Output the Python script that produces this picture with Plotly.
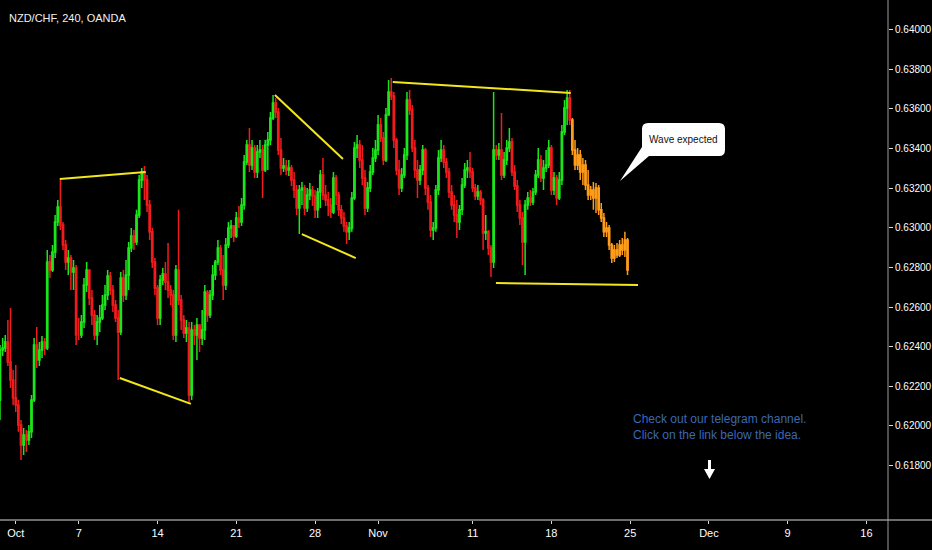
import pandas as pd
import plotly.graph_objects as go

# NZD/CHF 4h candles (OANDA)
first_open = 0.62131
closes = [
    0.62383, 0.62393, 0.62424, 0.62323, 0.62232, 0.62141, 0.62106, 0.62005, 0.61904, 0.61954,
    0.61929, 0.61970, 0.62131, 0.62408, 0.62333, 0.62383, 0.62424, 0.62393, 0.62827, 0.62787,
    0.62878, 0.63029, 0.63105, 0.63014, 0.62913, 0.62827, 0.62847, 0.62777, 0.62797, 0.62459,
    0.62459, 0.62524, 0.62711, 0.62787, 0.62646, 0.62560, 0.62459, 0.62524, 0.62545, 0.62610,
    0.62661, 0.62757, 0.62686, 0.62610, 0.62545, 0.62474, 0.62746, 0.62661, 0.62762, 0.62898,
    0.62958, 0.62928, 0.63064, 0.63241, 0.63281, 0.63241, 0.63115, 0.62979, 0.62827, 0.62696,
    0.62545, 0.62736, 0.62767, 0.62726, 0.62686, 0.62661, 0.62459, 0.62787, 0.62635, 0.62535,
    0.62469, 0.62494, 0.62156, 0.62484, 0.62459, 0.62509, 0.62444, 0.62484, 0.62676, 0.62560,
    0.62661, 0.62762, 0.62827, 0.62898, 0.62787, 0.62711, 0.62913, 0.62999, 0.63009, 0.62958,
    0.63049, 0.63029, 0.63115, 0.63332, 0.63417, 0.63317, 0.63402, 0.63281, 0.63382, 0.63392,
    0.63291, 0.63417, 0.63443, 0.63554, 0.63629, 0.63584, 0.63392, 0.63301, 0.63311, 0.63291,
    0.63301, 0.63241, 0.63190, 0.63100, 0.63190, 0.63200, 0.63100, 0.63165, 0.63190, 0.63160,
    0.63090, 0.63180, 0.63266, 0.63165, 0.63140, 0.63115, 0.63079, 0.63251, 0.63165, 0.63090,
    0.63049, 0.63009, 0.62979, 0.62999, 0.63150, 0.63402, 0.63417, 0.63342, 0.63251, 0.63100,
    0.63200, 0.63281, 0.63352, 0.63392, 0.63518, 0.63453, 0.63342, 0.63569, 0.63685, 0.63665,
    0.63443, 0.63291, 0.63200, 0.63266, 0.63367, 0.63644, 0.63594, 0.63402, 0.63291, 0.63241,
    0.63291, 0.63392, 0.63200, 0.63130, 0.62989, 0.62999, 0.63190, 0.63352, 0.63392, 0.63332,
    0.63281, 0.63180, 0.63115, 0.63064, 0.63029, 0.63090, 0.63216, 0.63291, 0.63301, 0.63281,
    0.63200, 0.63160, 0.63180, 0.63140, 0.62973, 0.62979, 0.62898, 0.62827, 0.63392, 0.63367,
    0.63392, 0.63266, 0.63342, 0.63402, 0.63433, 0.63281, 0.63211, 0.63115, 0.63049, 0.62928,
    0.63115, 0.63150, 0.63130, 0.63180, 0.63266, 0.63342, 0.63251, 0.63301, 0.63317, 0.63402,
    0.63190, 0.63251, 0.63150, 0.63241, 0.63483, 0.63604, 0.63655, 0.63544,
]
highs = [
    0.62408, 0.62444, 0.62459, 0.62535, 0.62595, 0.62282, 0.62308, 0.62131, 0.62030, 0.61990,
    0.61980, 0.62005, 0.62156, 0.62444, 0.62499, 0.62424, 0.62454, 0.62444, 0.62888, 0.62862,
    0.62913, 0.63064, 0.63140, 0.63241, 0.63029, 0.62938, 0.62888, 0.62862, 0.62837, 0.62812,
    0.62545, 0.62560, 0.62746, 0.62827, 0.62787, 0.62686, 0.62585, 0.62560, 0.62610, 0.62661,
    0.62711, 0.62787, 0.62777, 0.62711, 0.62635, 0.62585, 0.62777, 0.62787, 0.62837, 0.62928,
    0.62999, 0.62989, 0.63090, 0.63266, 0.63301, 0.63311, 0.63266, 0.63140, 0.62999, 0.62847,
    0.62711, 0.62762, 0.62797, 0.62827, 0.62923, 0.62711, 0.62686, 0.62812, 0.63090, 0.62661,
    0.62560, 0.62535, 0.62524, 0.62524, 0.62509, 0.62545, 0.62509, 0.62585, 0.62711, 0.62686,
    0.62686, 0.62812, 0.62837, 0.62938, 0.62913, 0.62862, 0.62948, 0.63029, 0.63039, 0.63014,
    0.63079, 0.63110, 0.63150, 0.63367, 0.63443, 0.63503, 0.63443, 0.63417, 0.63417, 0.63443,
    0.63417, 0.63443, 0.63483, 0.63584, 0.63670, 0.63655, 0.63604, 0.63453, 0.63352, 0.63342,
    0.63342, 0.63317, 0.63281, 0.63216, 0.63216, 0.63231, 0.63216, 0.63200, 0.63226, 0.63211,
    0.63190, 0.63200, 0.63291, 0.63352, 0.63216, 0.63180, 0.63150, 0.63281, 0.63266, 0.63180,
    0.63115, 0.63079, 0.63029, 0.63029, 0.63180, 0.63433, 0.63468, 0.63443, 0.63417, 0.63291,
    0.63231, 0.63317, 0.63402, 0.63443, 0.63569, 0.63554, 0.63483, 0.63604, 0.63745, 0.63755,
    0.63685, 0.63453, 0.63342, 0.63301, 0.63402, 0.63685, 0.63695, 0.63619, 0.63443, 0.63342,
    0.63317, 0.63417, 0.63402, 0.63216, 0.63165, 0.63029, 0.63216, 0.63392, 0.63443, 0.63417,
    0.63352, 0.63301, 0.63216, 0.63165, 0.63140, 0.63115, 0.63251, 0.63327, 0.63342, 0.63382,
    0.63301, 0.63221, 0.63216, 0.63190, 0.63150, 0.63064, 0.62989, 0.62913, 0.63685, 0.63417,
    0.63427, 0.63579, 0.63382, 0.63443, 0.63503, 0.63453, 0.63317, 0.63241, 0.63140, 0.63079,
    0.63140, 0.63180, 0.63190, 0.63200, 0.63291, 0.63402, 0.63367, 0.63342, 0.63392, 0.63443,
    0.63417, 0.63281, 0.63266, 0.63281, 0.63518, 0.63644, 0.63695, 0.63695,
]
lows = [
    0.62030, 0.62353, 0.62373, 0.62302, 0.62191, 0.62106, 0.62070, 0.61970, 0.61828, 0.61853,
    0.61869, 0.61904, 0.61939, 0.62121, 0.62292, 0.62302, 0.62343, 0.62358, 0.62383, 0.62746,
    0.62777, 0.62847, 0.63009, 0.62989, 0.62888, 0.62787, 0.62762, 0.62686, 0.62686, 0.62408,
    0.62434, 0.62444, 0.62494, 0.62676, 0.62610, 0.62509, 0.62434, 0.62408, 0.62474, 0.62535,
    0.62585, 0.62635, 0.62661, 0.62575, 0.62524, 0.62232, 0.62459, 0.62625, 0.62635, 0.62686,
    0.62878, 0.62888, 0.62913, 0.63049, 0.63200, 0.63140, 0.63079, 0.62938, 0.62797, 0.62661,
    0.62509, 0.62509, 0.62711, 0.62686, 0.62646, 0.62610, 0.62434, 0.62424, 0.62610, 0.62484,
    0.62444, 0.62424, 0.62111, 0.62131, 0.62408, 0.62333, 0.62373, 0.62408, 0.62434, 0.62524,
    0.62545, 0.62635, 0.62736, 0.62812, 0.62762, 0.62635, 0.62686, 0.62898, 0.62948, 0.62928,
    0.62948, 0.62999, 0.63009, 0.63090, 0.63317, 0.63281, 0.63291, 0.63251, 0.63251, 0.63352,
    0.63150, 0.63281, 0.63291, 0.63417, 0.63544, 0.63554, 0.63367, 0.63266, 0.63281, 0.63266,
    0.63261, 0.63211, 0.63150, 0.63064, 0.62968, 0.63115, 0.63064, 0.63079, 0.63140, 0.63110,
    0.63049, 0.63049, 0.63100, 0.63140, 0.63110, 0.63059, 0.63049, 0.63069, 0.63115, 0.63059,
    0.63019, 0.62979, 0.62918, 0.62938, 0.62979, 0.63140, 0.63352, 0.63301, 0.63216, 0.63064,
    0.63079, 0.63180, 0.63266, 0.63332, 0.63367, 0.63433, 0.63317, 0.63332, 0.63569, 0.63644,
    0.63402, 0.63266, 0.63165, 0.63180, 0.63251, 0.63342, 0.63569, 0.63382, 0.63251, 0.63150,
    0.63216, 0.63266, 0.63165, 0.63090, 0.62953, 0.62938, 0.62979, 0.63165, 0.63332, 0.63301,
    0.63251, 0.63150, 0.63090, 0.63029, 0.62948, 0.62989, 0.63064, 0.63200, 0.63251, 0.63251,
    0.63180, 0.63140, 0.63140, 0.63115, 0.62888, 0.62938, 0.62862, 0.62751, 0.62797, 0.63342,
    0.63342, 0.63241, 0.63251, 0.63317, 0.63382, 0.63261, 0.63190, 0.63079, 0.63014, 0.62812,
    0.62762, 0.63090, 0.63110, 0.63115, 0.63165, 0.63251, 0.63231, 0.63190, 0.63281, 0.63301,
    0.63165, 0.63165, 0.63115, 0.63140, 0.63216, 0.63468, 0.63518, 0.63518,
]

# projected path ("Wave expected"), drawn in orange
forecast_closes = [0.63392, 0.63317, 0.63367, 0.63281, 0.63317, 0.63216, 0.63165, 0.63190,
                   0.63150, 0.63200, 0.63090, 0.63049, 0.62979, 0.62999, 0.62913, 0.62847,
                   0.62888, 0.62862, 0.62913, 0.62888, 0.62938, 0.62787]
forecast_highs = [0.63554, 0.63443, 0.63402, 0.63392, 0.63352, 0.63342, 0.63291, 0.63211,
                  0.63231, 0.63226, 0.63216, 0.63125, 0.63074, 0.63029, 0.63014, 0.62923,
                  0.62913, 0.62923, 0.62938, 0.62948, 0.62979, 0.62948]
forecast_lows = [0.63367, 0.63291, 0.63291, 0.63241, 0.63216, 0.63190, 0.63140, 0.63140,
                 0.63090, 0.63074, 0.63064, 0.63029, 0.62953, 0.62953, 0.62888, 0.62822,
                 0.62827, 0.62847, 0.62852, 0.62862, 0.62852, 0.62762]

# yellow trend lines: (start time, start price, end time, end price)
trend_lines = [
    ("2019-10-03 19:00", 0.63246, "2019-10-11 06:00", 0.63281),
    ("2019-10-09 14:30", 0.62242, "2019-10-16 02:50", 0.62111),
    ("2019-10-23 10:50", 0.63670, "2019-10-29 18:30", 0.63347),
    ("2019-10-25 03:50", 0.62968, "2019-10-30 14:00", 0.62847),
    ("2019-11-01 22:20", 0.63735, "2019-11-19 05:30", 0.63680),
    ("2019-11-12 11:30", 0.62721, "2019-11-25 12:00", 0.62711),
]

tick_dates = ["2019-10-01", "2019-10-07", "2019-10-14", "2019-10-21", "2019-10-28", "2019-11-01",
              "2019-11-11", "2019-11-18", "2019-11-25", "2019-12-02", "2019-12-09", "2019-12-16"]
tick_labels = ["Oct", "7", "14", "21", "28", "Nov", "11", "18", "25", "Dec", "9", "16"]
price_ticks = [0.618, 0.620, 0.622, 0.624, 0.626, 0.628, 0.630, 0.632, 0.634, 0.636, 0.638, 0.640]

assert len(closes) == len(highs) == len(lows) == 218
assert len(forecast_closes) == len(forecast_highs) == len(forecast_lows) == 22

# 4h bars, weekdays only
days = pd.bdate_range("2019-09-30", "2019-11-22")
times = [d + pd.Timedelta(hours=4 * k) for d in days for k in range(6)]
n = len(closes)
opens = [first_open] + closes[:-1]
forecast_opens = [closes[-1]] + forecast_closes[:-1]

GREEN = "#1be61b"
RED = "#f21b1b"
ORANGE = "#ff9c1a"
FONT = "Liberation Sans, Arial, sans-serif"

W, H = 932, 550
L, R, T, B = 0, 44, 0, 30
PW, PH = W - L - R, H - T - B


def px(x):
    return (x - L) / PW


def py(y):
    return 1 - (y - T) / PH


fig = go.Figure()
fig.add_trace(go.Candlestick(
    x=times[:n], open=opens, high=highs, low=lows, close=closes,
    increasing=dict(line=dict(color=GREEN, width=1.5), fillcolor=GREEN),
    decreasing=dict(line=dict(color=RED, width=1.5), fillcolor=RED),
    showlegend=False, hoverinfo="skip",
))
fig.add_trace(go.Candlestick(
    x=times[n:], open=forecast_opens, high=forecast_highs, low=forecast_lows, close=forecast_closes,
    increasing=dict(line=dict(color=ORANGE, width=1.5), fillcolor=ORANGE),
    decreasing=dict(line=dict(color=ORANGE, width=1.5), fillcolor=ORANGE),
    showlegend=False, hoverinfo="skip",
))

for t0, p0, t1, p1 in trend_lines:
    fig.add_shape(type="line", xref="x", yref="y", x0=t0, y0=p0, x1=t1, y1=p1,
                  line=dict(color="#f2e71c", width=2))

# axis frame lines
fig.add_shape(type="line", xref="paper", yref="paper", x0=0, x1=px(W), y0=0, y1=0,
              line=dict(color="#d9d9d9", width=1))
fig.add_shape(type="line", xref="paper", yref="paper", x0=1, x1=1, y0=py(H), y1=1,
              line=dict(color="#9a9a9a", width=1))

# callout bubble with tail
bx0, bx1, by0, by1, r = 642, 725, 123, 156, 6
pts = [
    ("M", [(bx0 + r, by0)]), ("L", [(bx1 - r, by0)]), ("Q", [(bx1, by0), (bx1, by0 + r)]),
    ("L", [(bx1, by1 - r)]), ("Q", [(bx1, by1), (bx1 - r, by1)]), ("L", [(649, by1)]),
    ("L", [(620, 181)]), ("L", [(bx0, 147)]), ("L", [(bx0, by0 + r)]),
    ("Q", [(bx0, by0), (bx0 + r, by0)]),
]
path = " ".join(cmd + " " + " ".join(f"{px(x):.5f},{py(y):.5f}" for x, y in p) for cmd, p in pts) + " Z"
fig.add_shape(type="path", xref="paper", yref="paper", path=path,
              fillcolor="white", line=dict(color="white", width=0))

fig.add_annotation(xref="paper", yref="paper", x=px(683.5), y=py(139.5), xanchor="center",
                   yanchor="middle", text="Wave expected", showarrow=False,
                   font=dict(family=FONT, size=10, color="#111111"))
fig.add_annotation(xref="paper", yref="paper", x=px(7), y=py(18), xanchor="left",
                   yanchor="middle", text="NZD/CHF, 240, OANDA", showarrow=False,
                   font=dict(family=FONT, size=11, color="#f0f0f0"))
fig.add_annotation(xref="paper", yref="paper", x=px(631), y=py(427), xanchor="left",
                   yanchor="middle", align="left", showarrow=False,
                   text="Check out our telegram channel.<br>Click on the link below the idea.",
                   font=dict(family=FONT, size=12, color="#3b68b2"))
# down arrow: shaft plus head
fig.add_shape(type="line", xref="paper", yref="paper", x0=px(709.5), x1=px(709.5),
              y0=py(460), y1=py(471), line=dict(color="white", width=3))
fig.add_shape(type="path", xref="paper", yref="paper",
              path=f"M {px(704):.5f},{py(469):.5f} L {px(715):.5f},{py(469):.5f} "
                   f"L {px(709.5):.5f},{py(479):.5f} Z",
              fillcolor="white", line=dict(color="white", width=0))

fig.update_layout(
    width=W, height=H,
    margin=dict(l=L, r=R, t=T, b=B),
    paper_bgcolor="black", plot_bgcolor="black",
    font=dict(family=FONT, color="white", size=11),
    showlegend=False,
    xaxis=dict(
        type="date", range=["2019-09-30 00:00", "2019-12-17 08:50"],
        rangebreaks=[dict(bounds=["sat", "mon"])],
        rangeslider=dict(visible=False),
        tickvals=tick_dates, ticktext=tick_labels,
        ticks="outside", ticklen=3, tickcolor="#d9d9d9",
        showgrid=False, zeroline=False, showline=False,
        tickfont=dict(family=FONT, size=11, color="white"),
    ),
    yaxis=dict(
        side="right", range=[0.615254, 0.641488],
        tickvals=price_ticks, tickformat=".5f",
        ticks="outside", ticklen=4, tickcolor="#d9d9d9",
        showgrid=False, zeroline=False, showline=False,
        tickfont=dict(family=FONT, size=10, color="white"),
    ),
)

fig.write_html("out.html", config={"displayModeBar": False},
               post_script="document.body.style.margin='0px';")
